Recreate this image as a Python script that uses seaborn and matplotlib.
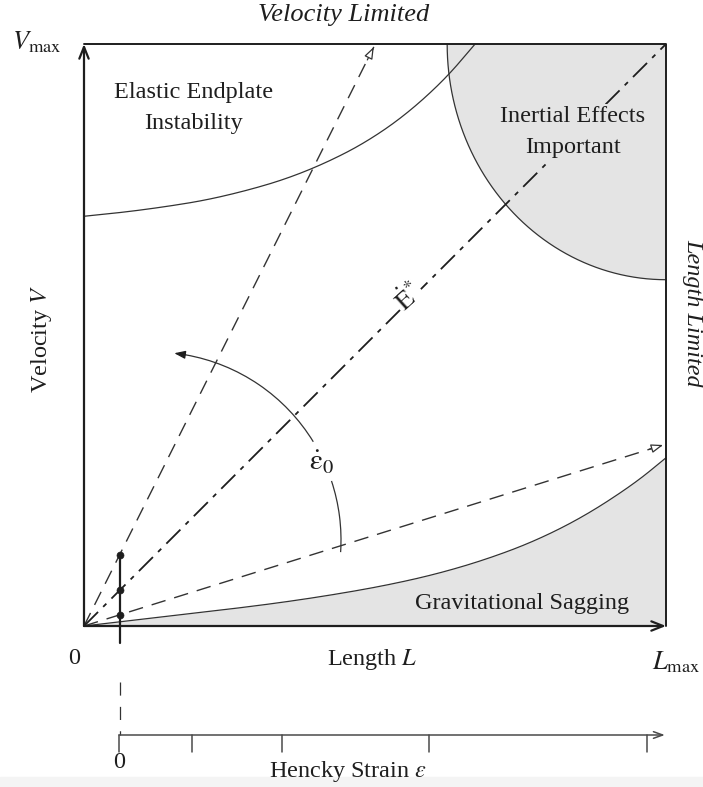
import numpy as np
import matplotlib
matplotlib.use("Agg")
import matplotlib.pyplot as plt
from matplotlib.patches import Arc, Rectangle
import seaborn as sns

# ---- operating-space data (L and V as fractions of L_max and V_max) ----
# gravitational sagging boundary
sag_L = [0.000, 0.086, 0.172, 0.258, 0.344, 0.430, 0.515, 0.601, 0.687,
         0.773, 0.859, 0.945, 1.000]
sag_V = [0.000, 0.010, 0.020, 0.030, 0.041, 0.054, 0.069, 0.088, 0.113,
         0.145, 0.188, 0.244, 0.289]

# elastic endplate instability boundary
elastic_L = [0.000, 0.069, 0.137, 0.206, 0.275, 0.344, 0.412, 0.481, 0.550,
             0.619, 0.672]
elastic_V = [0.704, 0.711, 0.720, 0.731, 0.747, 0.767, 0.794, 0.829, 0.876,
             0.938, 1.000]

# inertial region: quarter ellipse about (L_max, V_max)
inertial_top_L = 0.624     # where the boundary meets V = V_max
inertial_right_V = 0.595   # where the boundary meets L = L_max

# constant-velocity paths (end points)
steep_end = (0.498, 0.995)
diag_end = (1.0, 1.0)
shallow_end = (0.995, 0.311)

# initial sample length
L0 = 0.0613

# Hencky strain axis tick positions (in L)
hencky_ticks_L = [0.0601, 0.186, 0.341, 0.592, 0.967]
hencky_tick_labels = ["0", "", "", "", ""]
hencky_axis_end = 0.998

# ---- style ----
sns.set_theme(style="white")
plt.rcParams["font.family"] = ["Liberation Serif", "DejaVu Serif"]
plt.rcParams["mathtext.fontset"] = "stix"

INK = "#1e1e1e"
LINE = "#333333"
GRAY = "#e4e4e4"
FS = 17.5

W, H = 703, 787
fig = plt.figure(figsize=(W / 100, H / 100), dpi=100)
fig.patch.set_facecolor("white")
fig.patches.append(Rectangle((0, 0), 1, 10 / H, transform=fig.transFigure,
                             color="#f4f4f4", zorder=-5))
ax = fig.add_axes([84 / W, 161 / H, 582 / W, 582 / H])
ax.set_zorder(2)
ax.set_xlim(0, 1)
ax.set_ylim(0, 1)
ax.axis("off")


def at(x, y):
    """pixel-style position inside the chart frame -> data coordinates"""
    return (x - 84) / 582, (626 - y) / 582


def chaikin(xs, ys, rounds=4):
    """corner-cutting smoothing of a polyline, keeping both end points"""
    p = np.column_stack([xs, ys]).astype(float)
    for _ in range(rounds):
        q = 0.75 * p[:-1] + 0.25 * p[1:]
        r = 0.25 * p[:-1] + 0.75 * p[1:]
        mid = np.empty((2 * len(q), 2))
        mid[0::2], mid[1::2] = q, r
        p = np.vstack([p[:1], mid, p[-1:]])
    return p[:, 0], p[:, 1]


sag_Ls, sag_Vs = chaikin(sag_L, sag_V)
el_Ls, el_Vs = chaikin(elastic_L, elastic_V)

# shaded regions
ax.fill_between(sag_Ls, 0, sag_Vs, color=GRAY, lw=0, zorder=1)
rx, ry = 1 - inertial_top_L, 1 - inertial_right_V
t = np.linspace(np.pi, 1.5 * np.pi, 160)
ell_L = 1 + rx * np.cos(t)
ell_V = 1 + ry * np.sin(t)
ax.fill(np.r_[ell_L, 1.0], np.r_[ell_V, 1.0], color=GRAY, lw=0, zorder=1)

# region boundaries
for xs, ys in [(sag_Ls, sag_Vs), (el_Ls, el_Vs), (ell_L, ell_V)]:
    sns.lineplot(x=xs, y=ys, ax=ax, color=LINE, lw=0.9, sort=False,
                 estimator=None, zorder=3, clip_on=False)

# frame: top and right limits
sns.lineplot(x=[0, 1, 1], y=[1, 1, 0], ax=ax, color=INK, lw=1.4, sort=False,
             estimator=None, zorder=4, clip_on=False)

# axes with arrows
for tip in [(0, 1), (1, 0)]:
    ax.annotate("", xy=tip, xytext=(0, 0), annotation_clip=False,
                arrowprops=dict(arrowstyle="->,head_length=0.7,head_width=0.28",
                                color=INK, lw=1.6, shrinkA=0, shrinkB=0),
                zorder=5)

# constant-velocity paths
for end in [steep_end, shallow_end]:
    sns.lineplot(x=[0, end[0]], y=[0, end[1]], ax=ax, color=LINE, lw=1.0,
                 sort=False, estimator=None, zorder=3, clip_on=False)
    ax.lines[-1].set_dashes((10.5, 6.5))
    d = np.array(end) / np.hypot(*end)
    ax.annotate("", xy=end, xytext=(end[0] - 0.025 * d[0], end[1] - 0.025 * d[1]),
                annotation_clip=False,
                arrowprops=dict(arrowstyle="-|>,head_length=0.6,head_width=0.22",
                                fc="white", ec=LINE, lw=0.9, shrinkA=0, shrinkB=0),
                zorder=6)

sns.lineplot(x=[0, diag_end[0]], y=[0, diag_end[1]], ax=ax, color=INK, lw=1.3,
             sort=False, estimator=None, zorder=3, clip_on=False)
ax.lines[-1].set_dashes((11, 4, 2.5, 4))

# initial-length marker and intersections with the three paths
slopes = [steep_end[1] / steep_end[0], diag_end[1] / diag_end[0],
          shallow_end[1] / shallow_end[0]]
dots_V = [s * L0 for s in slopes]
sns.lineplot(x=[L0, L0], y=[max(dots_V), -0.029], ax=ax, color=INK, lw=1.6,
             sort=False, estimator=None, zorder=5, clip_on=False)
sns.scatterplot(x=[L0] * 3, y=dots_V, ax=ax, color=INK, s=26, edgecolor=INK,
                zorder=6, clip_on=False)
sns.lineplot(x=[L0, L0], y=[-0.096, -0.187], ax=ax, color=LINE, lw=0.9,
             sort=False, estimator=None, zorder=3, clip_on=False)
ax.lines[-1].set_dashes((10.5, 9))

# strain-rate arc
c = at(153, 540)
r = 188 / 582
ax.add_patch(Arc(c, 2 * r, 2 * r, theta1=31.5, theta2=80.0, color=LINE, lw=0.9,
                 zorder=4, clip_on=False))
ax.add_patch(Arc(c, 2 * r, 2 * r, theta1=-3.7, theta2=18.3, color=LINE, lw=0.9,
                 zorder=4, clip_on=False))
a0, a1 = np.radians(80.0), np.radians(83.5)
ax.annotate("", xy=(c[0] + r * np.cos(a1), c[1] + r * np.sin(a1)),
            xytext=(c[0] + r * np.cos(a0), c[1] + r * np.sin(a0)),
            annotation_clip=False,
            arrowprops=dict(arrowstyle="-|>,head_length=0.55,head_width=0.2",
                            color=INK, lw=0.9, shrinkA=0, shrinkB=0), zorder=6)

# Hencky strain axis
hy = (626 - 735) / 582
ht = (626 - 752) / 582
ax.annotate("", xy=(hencky_axis_end, hy), xytext=(hencky_ticks_L[0], hy),
            annotation_clip=False,
            arrowprops=dict(arrowstyle="->,head_length=0.55,head_width=0.2",
                            color="#4a4a4a", lw=1.1, shrinkA=0, shrinkB=0))
for tl, lab in zip(hencky_ticks_L, hencky_tick_labels):
    sns.lineplot(x=[tl, tl], y=[hy, ht], ax=ax, color="#4a4a4a", lw=1.1,
                 sort=False, estimator=None, clip_on=False)
    if lab:
        ax.text(tl, (626 - 763) / 582, lab, ha="center", va="center",
                fontsize=FS, color=INK)


# labels
def label(x, y, s, **kw):
    kw.setdefault("fontsize", FS)
    kw.setdefault("color", INK)
    ax.text(*at(x, y), s, ha=kw.pop("ha", "center"), va=kw.pop("va", "center"),
            clip_on=False, **kw)


label(344, 15, "Velocity Limited", style="italic", fontsize=19)
label(693, 313, "Length Limited", style="italic", fontsize=17.5, rotation=-90)
label(62, 42, r"$V_{\rm max}$", ha="right", fontsize=19)
label(194, 108, "Elastic Endplate\nInstability", linespacing=1.65)
label(573, 132, "Inertial Effects\nImportant", linespacing=1.65, zorder=7,
      bbox=dict(fc=GRAY, ec="none", pad=1.5))
label(42, 339, r"Velocity $V$", rotation=90)
label(409, 297, r"$\dot{\mathrm{E}}^{*}$", rotation=42, fontsize=19,
      bbox=dict(fc="white", ec="none", pad=0.5), zorder=7)
label(321, 462, r"$\dot{\mathrm{\varepsilon}}_{0}$", fontsize=21)
label(522, 603, "Gravitational Sagging")
label(74, 658, "0")
label(372, 660, r"Length $L$")
label(676, 662, r"$L_{\rm max}$", fontsize=19)
label(348, 771, r"Hencky Strain $\varepsilon$")

fig.savefig("out.png", dpi=100, facecolor="white")
